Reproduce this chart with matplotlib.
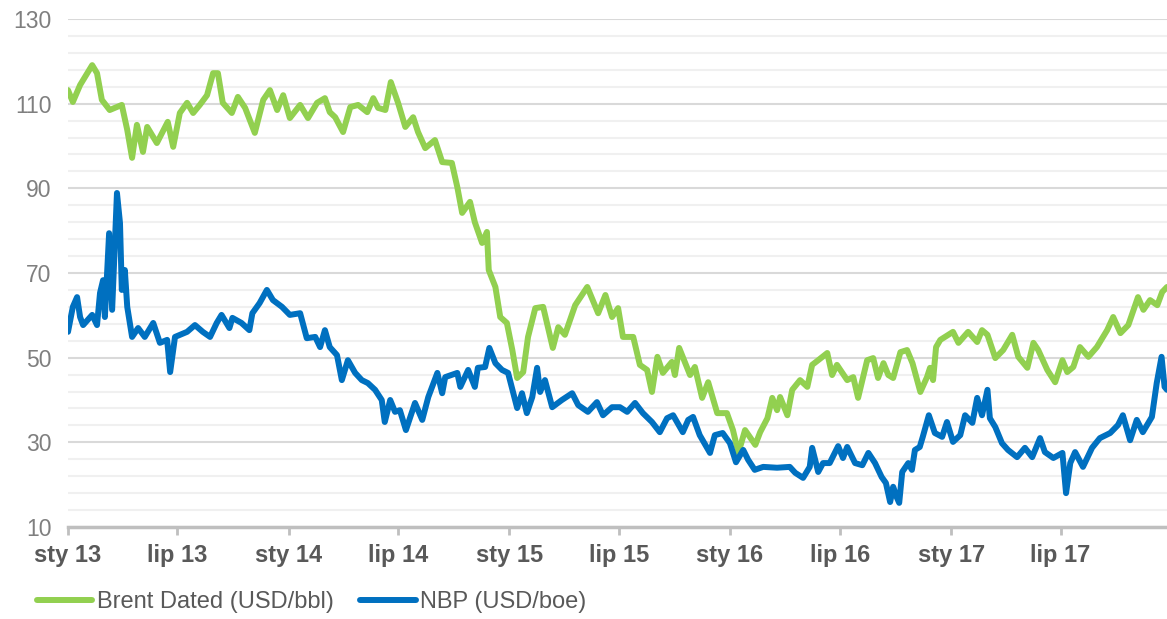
import matplotlib
matplotlib.use('Agg')
import matplotlib.pyplot as plt
import numpy as np
import pandas as pd

# Brent Dated (USD/bbl)
brent_dates = [
    '2013-01-01', '2013-01-09', '2013-01-21', '2013-02-10', '2013-02-18', '2013-02-26',
    '2013-03-11', '2013-03-31', '2013-04-09', '2013-04-17', '2013-04-25', '2013-05-05',
    '2013-05-12', '2013-05-28', '2013-06-15', '2013-06-24', '2013-07-05', '2013-07-17',
    '2013-07-27', '2013-08-07', '2013-08-19', '2013-08-29', '2013-09-06', '2013-09-14',
    '2013-09-29', '2013-10-09', '2013-10-21', '2013-11-06', '2013-11-20', '2013-12-01',
    '2013-12-13', '2013-12-23', '2014-01-03', '2014-01-20', '2014-02-02', '2014-02-17',
    '2014-03-02', '2014-03-10', '2014-03-19', '2014-04-01', '2014-04-13', '2014-04-26',
    '2014-05-11', '2014-05-21', '2014-05-29', '2014-06-10', '2014-06-19', '2014-07-01',
    '2014-07-13', '2014-07-26', '2014-08-03', '2014-08-15', '2014-08-31', '2014-09-12',
    '2014-09-28', '2014-10-07', '2014-10-15', '2014-10-28', '2014-11-05', '2014-11-17',
    '2014-11-25', '2014-11-28', '2014-12-09', '2014-12-17', '2014-12-28', '2015-01-06',
    '2015-01-14', '2015-01-24', '2015-02-01', '2015-02-13', '2015-02-26', '2015-03-14',
    '2015-03-23', '2015-04-03', '2015-04-20', '2015-05-10', '2015-05-28', '2015-06-09',
    '2015-06-20', '2015-06-30', '2015-07-08', '2015-07-25', '2015-08-05', '2015-08-17',
    '2015-08-25', '2015-09-03', '2015-09-12', '2015-09-27', '2015-10-02', '2015-10-09',
    '2015-10-27', '2015-11-04', '2015-11-16', '2015-11-26', '2015-12-11', '2015-12-27',
    '2016-01-06', '2016-01-15', '2016-01-26', '2016-02-12', '2016-02-20', '2016-03-03',
    '2016-03-11', '2016-03-19', '2016-03-24', '2016-04-05', '2016-04-13', '2016-04-26',
    '2016-05-08', '2016-05-16', '2016-05-26', '2016-06-10', '2016-06-18', '2016-06-26',
    '2016-07-13', '2016-07-23', '2016-07-31', '2016-08-15', '2016-08-25', '2016-09-02',
    '2016-09-11', '2016-09-19', '2016-09-27', '2016-10-09', '2016-10-20', '2016-10-29',
    '2016-11-11', '2016-11-22', '2016-11-27', '2016-12-02', '2016-12-07', '2016-12-14',
    '2017-01-04', '2017-01-13', '2017-01-29', '2017-02-13', '2017-02-21', '2017-03-02',
    '2017-03-15', '2017-03-28', '2017-04-12', '2017-04-22', '2017-05-07', '2017-05-17',
    '2017-05-25', '2017-06-09', '2017-06-22', '2017-07-04', '2017-07-12', '2017-07-22',
    '2017-08-02', '2017-08-16', '2017-08-30', '2017-09-16', '2017-09-26', '2017-10-08',
    '2017-10-21', '2017-11-06', '2017-11-15', '2017-11-26', '2017-12-08', '2017-12-16',
    '2017-12-24']
brent_vals = [
    113.2, 110.4, 114.4, 119.1, 117.2, 110.9,
    108.5, 109.7, 103.8, 97.2, 105.0, 98.6,
    104.5, 100.7, 105.7, 99.8, 107.8, 110.2,
    107.8, 109.7, 112.0, 117.2, 117.2, 110.2,
    107.8, 111.6, 109.0, 103.1, 110.9, 113.2,
    108.5, 112.0, 106.6, 109.7, 106.6, 110.2,
    111.3, 108.0, 106.8, 103.3, 109.2, 109.7,
    108.0, 111.3, 109.0, 108.5, 115.1, 110.2,
    104.5, 106.8, 103.3, 99.5, 101.4, 96.2,
    96.0, 90.3, 84.2, 86.8, 82.0, 77.1,
    79.7, 70.7, 66.7, 59.6, 58.2, 51.8,
    45.2, 46.6, 54.9, 61.7, 62.0, 52.3,
    57.2, 55.4, 62.4, 66.7, 60.5, 64.8,
    59.6, 61.7, 54.9, 54.9, 48.3, 47.1,
    41.9, 50.2, 46.4, 49.0, 45.9, 52.3,
    45.9, 47.8, 40.5, 44.2, 36.9, 36.9,
    32.9, 27.5, 32.9, 29.4, 32.4, 35.7,
    40.5, 37.6, 40.7, 36.4, 42.4, 44.7,
    43.1, 48.3, 49.4, 51.1, 45.9, 48.3,
    44.7, 45.4, 40.5, 49.4, 49.9, 45.2,
    48.7, 45.9, 45.2, 51.3, 51.8, 48.7,
    41.9, 45.4, 47.6, 44.7, 52.5, 54.2,
    56.1, 53.5, 56.1, 53.7, 56.5, 55.4,
    49.9, 51.8, 55.4, 50.2, 47.6, 53.5,
    51.8, 47.1, 44.2, 49.4, 46.6, 47.8,
    52.5, 50.2, 52.5, 56.5, 59.6, 55.8,
    57.7, 64.3, 61.3, 63.6, 62.4, 65.5,
    66.7]

# NBP (USD/boe)
nbp_dates = [
    '2013-01-01', '2013-01-09', '2013-01-16', '2013-01-21', '2013-01-26', '2013-02-10',
    '2013-02-18', '2013-02-23', '2013-02-28', '2013-03-03', '2013-03-10', '2013-03-15',
    '2013-03-23', '2013-03-28', '2013-03-31', '2013-04-05', '2013-04-09', '2013-04-17',
    '2013-04-27', '2013-05-08', '2013-05-22', '2013-06-02', '2013-06-14', '2013-06-19',
    '2013-06-27', '2013-07-17', '2013-07-30', '2013-08-12', '2013-08-24', '2013-09-04',
    '2013-09-12', '2013-09-25', '2013-09-30', '2013-10-15', '2013-10-28', '2013-11-02',
    '2013-11-14', '2013-11-26', '2013-12-06', '2013-12-21', '2014-01-03', '2014-01-20',
    '2014-01-31', '2014-02-14', '2014-02-22', '2014-03-02', '2014-03-10', '2014-03-22',
    '2014-03-30', '2014-04-09', '2014-04-21', '2014-05-02', '2014-05-12', '2014-05-24',
    '2014-06-04', '2014-06-09', '2014-06-18', '2014-06-26', '2014-07-04', '2014-07-14',
    '2014-07-29', '2014-08-10', '2014-08-20', '2014-09-04', '2014-09-12', '2014-09-17',
    '2014-10-07', '2014-10-12', '2014-10-25', '2014-11-05', '2014-11-10', '2014-11-22',
    '2014-11-29', '2014-12-09', '2014-12-20', '2014-12-30', '2015-01-14', '2015-01-22',
    '2015-01-30', '2015-02-08', '2015-02-16', '2015-02-21', '2015-03-01', '2015-03-13',
    '2015-03-29', '2015-04-15', '2015-04-25', '2015-05-11', '2015-05-26', '2015-06-05',
    '2015-06-20', '2015-07-03', '2015-07-15', '2015-07-28', '2015-08-10', '2015-08-25',
    '2015-09-07', '2015-09-19', '2015-09-29', '2015-10-15', '2015-10-24', '2015-11-01',
    '2015-11-12', '2015-11-29', '2015-12-07', '2015-12-20', '2016-01-01', '2016-01-11',
    '2016-01-23', '2016-01-31', '2016-02-11', '2016-02-25', '2016-03-19', '2016-04-09',
    '2016-04-18', '2016-05-01', '2016-05-12', '2016-05-16', '2016-05-26', '2016-06-03',
    '2016-06-14', '2016-06-28', '2016-07-06', '2016-07-13', '2016-07-26', '2016-08-07',
    '2016-08-17', '2016-08-28', '2016-09-08', '2016-09-15', '2016-09-22', '2016-09-27',
    '2016-10-03', '2016-10-07', '2016-10-12', '2016-10-22', '2016-10-28', '2016-11-02',
    '2016-11-10', '2016-11-15', '2016-11-25', '2016-12-05', '2016-12-17', '2016-12-25',
    '2017-01-04', '2017-01-16', '2017-01-24', '2017-02-05', '2017-02-13', '2017-02-21',
    '2017-03-02', '2017-03-06', '2017-03-15', '2017-03-26', '2017-04-05', '2017-04-20',
    '2017-05-03', '2017-05-15', '2017-05-28', '2017-06-05', '2017-06-19', '2017-07-04',
    '2017-07-10', '2017-07-17', '2017-07-25', '2017-08-07', '2017-08-22', '2017-09-04',
    '2017-09-21', '2017-10-04', '2017-10-12', '2017-10-24', '2017-11-04', '2017-11-14',
    '2017-11-29', '2017-12-07', '2017-12-15', '2017-12-20', '2017-12-24']
nbp_vals = [
    56.1, 62.0, 64.3, 59.6, 57.7, 60.1,
    57.7, 65.3, 68.3, 59.6, 79.4, 61.3,
    88.9, 81.8, 66.0, 70.7, 62.0, 54.9,
    57.0, 54.9, 58.2, 53.5, 54.2, 46.6,
    54.9, 56.1, 57.7, 56.1, 54.9, 58.2,
    60.1, 57.0, 59.4, 58.2, 56.5, 60.5,
    62.9, 66.0, 63.6, 62.0, 60.1, 60.5,
    54.6, 54.9, 52.5, 56.5, 52.5, 50.6,
    44.7, 49.4, 46.4, 44.7, 44.0, 42.4,
    40.0, 34.8, 40.0, 37.2, 37.6, 32.9,
    39.3, 35.3, 40.7, 46.4, 41.6, 45.4,
    46.4, 43.1, 47.1, 43.1, 47.6, 47.8,
    52.3, 48.7, 47.1, 46.4, 38.1, 41.6,
    36.9, 40.7, 47.6, 41.9, 44.7, 38.3,
    40.0, 41.6, 38.8, 37.2, 39.5, 36.4,
    38.3, 38.3, 37.2, 39.3, 36.9, 34.8,
    32.4, 35.7, 36.4, 32.4, 35.3, 36.0,
    31.7, 27.5, 31.7, 32.2, 29.8, 25.3,
    28.2, 25.9, 23.5, 24.2, 24.0, 24.2,
    22.8, 21.6, 24.2, 28.7, 23.0, 25.1,
    25.1, 29.1, 26.3, 28.9, 25.1, 24.6,
    27.5, 25.1, 21.8, 20.4, 15.9, 19.5,
    17.0, 15.7, 23.0, 25.1, 23.5, 28.2,
    28.9, 31.3, 36.4, 32.2, 31.3, 34.8,
    30.1, 31.7, 36.4, 34.6, 40.5, 36.4,
    42.4, 35.7, 33.6, 29.8, 28.2, 26.5,
    28.7, 26.5, 31.0, 27.7, 26.3, 27.5,
    18.0, 25.1, 27.7, 24.2, 28.7, 31.0,
    32.2, 34.1, 36.4, 30.5, 35.3, 32.4,
    36.0, 44.0, 50.2, 43.1, 42.4]

tick_dates = ['2013-01-01', '2013-07-01', '2014-01-01', '2014-07-01', '2015-01-01',
              '2015-07-01', '2016-01-01', '2016-07-01', '2017-01-01', '2017-07-01']
tick_labels = ['sty 13', 'lip 13', 'sty 14', 'lip 14', 'sty 15',
               'lip 15', 'sty 16', 'lip 16', 'sty 17', 'lip 17']

plt.rcParams['font.family'] = ['Liberation Sans', 'DejaVu Sans']

fig = plt.figure(figsize=(11.67, 6.19), dpi=100)
ax = fig.add_axes([68 / 1167, 92 / 619, 1099 / 1167, 508 / 619])

ax.plot(pd.to_datetime(brent_dates), brent_vals, color='#92D050', lw=4.3,
        solid_joinstyle='round', solid_capstyle='round',
        label='Brent Dated (USD/bbl)', zorder=3)
ax.plot(pd.to_datetime(nbp_dates), nbp_vals, color='#0070C0', lw=4.3,
        solid_joinstyle='round', solid_capstyle='round',
        label='NBP (USD/boe)', zorder=4)

ax.set_xlim(pd.Timestamp(brent_dates[0]), pd.Timestamp(brent_dates[-1]))
ax.set_ylim(10, 130)
ax.set_yticks(np.arange(10, 131, 20))
ax.set_yticks(np.arange(10, 131, 4), minor=True)
ax.grid(which='major', axis='y', color='#d9d9d9', lw=1.5)
ax.grid(which='minor', axis='y', color='#f0f0f0', lw=1.5)
ax.set_axisbelow(True)
ax.tick_params(axis='y', which='both', length=0, pad=12, labelsize=16.5,
               labelcolor='#7f7f7f')

ax.set_xticks(pd.to_datetime(tick_dates))
ax.set_xticklabels(tick_labels, fontweight='bold')
ax.xaxis.set_minor_locator(matplotlib.ticker.NullLocator())
ax.tick_params(axis='x', length=6, width=2, color='#bfbfbf', pad=6,
               labelsize=17, labelcolor='#595959')

for side in ['top', 'right', 'left']:
    ax.spines[side].set_visible(False)
ax.spines['bottom'].set_color('#bfbfbf')
ax.spines['bottom'].set_linewidth(2.5)

fig.legend(loc='center left', bbox_to_anchor=(37 / 1167, 17 / 619), ncol=2,
           frameon=False, fontsize=17, handlelength=2.35, handletextpad=0.2,
           columnspacing=1.1, borderpad=0, borderaxespad=0, labelcolor='#595959')

fig.savefig('out.png', dpi=100)
